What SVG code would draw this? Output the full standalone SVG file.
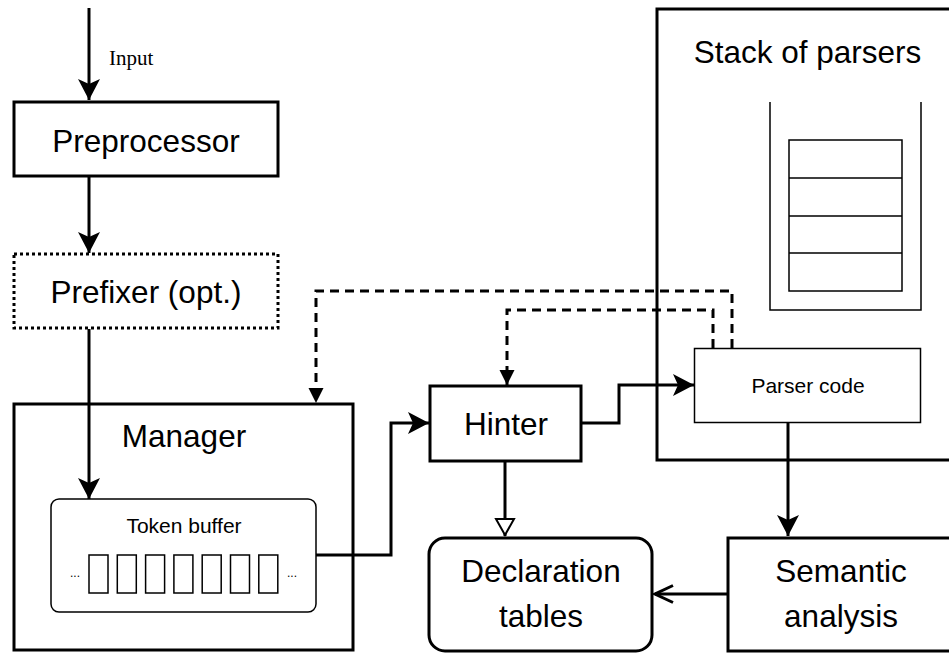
<svg xmlns="http://www.w3.org/2000/svg" width="949" height="653" viewBox="0 0 949 653">
  <style>
    .box { fill: #fff; stroke: #000; stroke-width: 3; }
    .thin { fill: #fff; stroke: #000; stroke-width: 1.5; }
    .dotted { fill: #fff; stroke: #000; stroke-width: 3; stroke-dasharray: 3 3; }
    .lbl { font-family: "Liberation Sans", Arial, sans-serif; font-size: 31.5px; text-anchor: middle; fill: #000; }
    .sm { font-family: "Liberation Sans", Arial, sans-serif; font-size: 21px; text-anchor: middle; fill: #000; }
    .serif { font-family: "Liberation Serif", "Times New Roman", serif; font-size: 21px; fill: #000; }
    .dots { font-family: "Liberation Sans", Arial, sans-serif; font-size: 12px; text-anchor: middle; fill: #000; }
    .wire { fill: none; stroke: #000; stroke-width: 3; }
    .dash { fill: none; stroke: #000; stroke-width: 3; stroke-dasharray: 9 6; }
  </style>
  <defs>
    <marker id="solid" markerUnits="userSpaceOnUse" markerWidth="24" markerHeight="26" viewBox="-22 -13 24 26" refX="0" refY="0" orient="auto">
      <path d="M0,0 L-21,-11 L-16,0 L-21,11 Z" fill="#000"/>
    </marker>
    <marker id="tri" markerUnits="userSpaceOnUse" markerWidth="18" markerHeight="18" viewBox="-16 -9 18 18" refX="0" refY="0" orient="auto">
      <path d="M0,0 L-15,-7.5 L-15,7.5 Z" fill="#000"/>
    </marker>
    <marker id="hollow" markerUnits="userSpaceOnUse" markerWidth="22" markerHeight="24" viewBox="-20 -12 22 24" refX="0" refY="0" orient="auto">
      <path d="M-1,0 L-17,-9 L-17,9 Z" fill="#fff" stroke="#000" stroke-width="2"/>
    </marker>
    <marker id="open" markerUnits="userSpaceOnUse" markerWidth="24" markerHeight="24" viewBox="-22 -12 24 24" refX="0" refY="0" orient="auto">
      <path d="M-18,-8.5 L0,0 L-18,8.5" fill="none" stroke="#000" stroke-width="3"/>
    </marker>
  </defs>

  <!-- containers -->
  <g id="stack-of-parsers">
    <rect class="box" x="657" y="9" width="310" height="451"/>
    <text class="lbl" x="807.5" y="63">Stack of parsers</text>
    <path d="M770,102 V310 H921 V102" fill="none" stroke="#000" stroke-width="1.5"/>
    <rect class="thin" x="789" y="140" width="113" height="151"/>
    <path d="M789,178 H902 M789,216 H902 M789,253 H902" stroke="#000" stroke-width="1.5"/>
  </g>

  <g id="manager">
    <rect class="box" x="14" y="404" width="339" height="246"/>
    <text class="lbl" x="184" y="447">Manager</text>
  </g>

  <g id="token-buffer">
    <rect class="thin" x="51" y="499" width="265" height="113" rx="8"/>
    <text class="sm" x="184" y="533">Token buffer</text>
    <g fill="none" stroke="#000" stroke-width="1.5">
      <rect x="89" y="555" width="19" height="38"/>
      <rect x="117.3" y="555" width="19" height="38"/>
      <rect x="145.6" y="555" width="19" height="38"/>
      <rect x="173.9" y="555" width="19" height="38"/>
      <rect x="202.2" y="555" width="19" height="38"/>
      <rect x="230.5" y="555" width="19" height="38"/>
      <rect x="258.8" y="555" width="19" height="38"/>
    </g>
    <text class="dots" x="75" y="577">...</text>
    <text class="dots" x="292" y="577">...</text>
  </g>

  <!-- nodes -->
  <g id="preprocessor">
    <rect class="box" x="14" y="102" width="264" height="74"/>
    <text class="lbl" x="146" y="152">Preprocessor</text>
  </g>

  <g id="prefixer">
    <rect class="dotted" x="14" y="254" width="264" height="74"/>
    <text class="lbl" x="146" y="303">Prefixer (opt.)</text>
  </g>

  <g id="hinter">
    <rect class="box" x="430" y="386" width="151" height="75"/>
    <text class="lbl" x="506" y="435">Hinter</text>
  </g>

  <g id="parser-code">
    <rect class="thin" x="694.5" y="348.5" width="226" height="74"/>
    <text class="sm" x="808" y="393">Parser code</text>
  </g>

  <g id="declaration-tables">
    <rect class="box" x="429" y="538" width="223" height="113" rx="16"/>
    <text class="lbl" x="541" y="582">Declaration</text>
    <text class="lbl" x="541" y="627">tables</text>
  </g>

  <g id="semantic-analysis">
    <rect class="box" x="728" y="538" width="240" height="113"/>
    <text class="lbl" x="841" y="582">Semantic</text>
    <text class="lbl" x="841" y="627">analysis</text>
  </g>

  <!-- connectors -->
  <g id="connectors">
    <path class="wire" d="M89,8 V100" marker-end="url(#solid)"/>
    <text class="serif" x="109" y="65">Input</text>
    <path class="wire" d="M89,177 V253" marker-end="url(#solid)"/>
    <path class="wire" d="M89,329 V499" marker-end="url(#solid)"/>
    <path class="wire" d="M316,555 H391 V423 H429" marker-end="url(#solid)"/>
    <path class="wire" d="M582,423 H619 V385 H694" marker-end="url(#solid)"/>
    <path class="wire" d="M788,423 V536" marker-end="url(#solid)"/>
    <path class="wire" d="M505,462 V536" marker-end="url(#hollow)"/>
    <path class="wire" d="M727,594 H655" marker-end="url(#open)"/>
    <path class="dash" d="M732,348 V291 H316 V403" marker-end="url(#tri)"/>
    <path class="dash" d="M713,348 V310 H507 V385" marker-end="url(#tri)"/>
  </g>
</svg>
